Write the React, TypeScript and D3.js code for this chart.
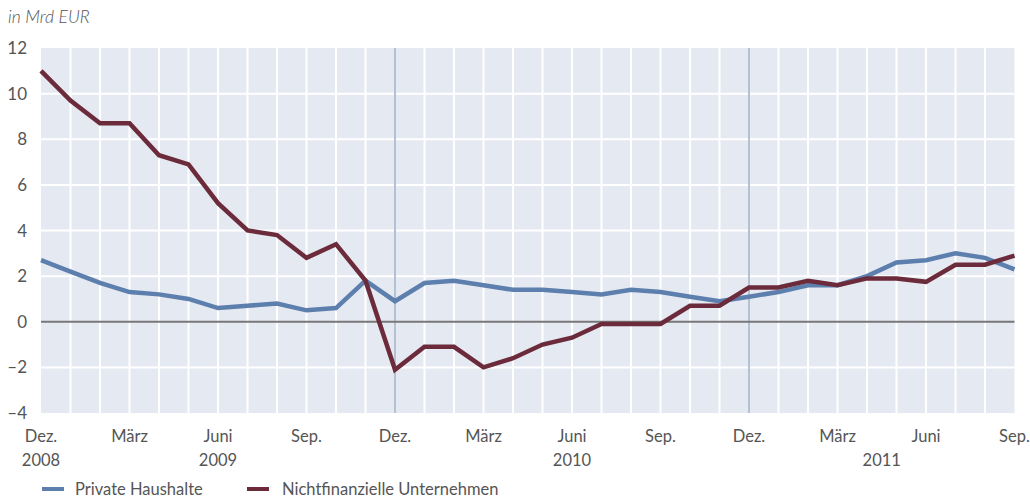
import React from "react";
import * as d3 from "d3";

const months = [
  "Dez.", "Jan.", "Feb.", "März", "Apr.", "Mai", "Juni", "Juli", "Aug.", "Sep.", "Okt.", "Nov.",
  "Dez.", "Jan.", "Feb.", "März", "Apr.", "Mai", "Juni", "Juli", "Aug.", "Sep.", "Okt.", "Nov.",
  "Dez.", "Jan.", "Feb.", "März", "Apr.", "Mai", "Juni", "Juli", "Aug.", "Sep.",
];
const privateHaushalte = [
  2.7, 2.2, 1.7, 1.3, 1.2, 1.0, 0.6, 0.7, 0.8, 0.5, 0.6, 1.8,
  0.9, 1.7, 1.8, 1.6, 1.4, 1.4, 1.3, 1.2, 1.4, 1.3, 1.1, 0.9,
  1.1, 1.3, 1.6, 1.6, 2.0, 2.6, 2.7, 3.0, 2.8, 2.3,
];
const unternehmen = [
  11.0, 9.7, 8.7, 8.7, 7.3, 6.9, 5.2, 4.0, 3.8, 2.8, 3.4, 1.8,
  -2.1, -1.1, -1.1, -2.0, -1.6, -1.0, -0.7, -0.1, -0.1, -0.1, 0.7, 0.7,
  1.5, 1.5, 1.8, 1.6, 1.9, 1.9, 1.75, 2.5, 2.5, 2.9,
];
const yTicks = [-4, -2, 0, 2, 4, 6, 8, 10, 12];
const monthLabelIdx = [0, 3, 6, 9, 12, 15, 18, 21, 24, 27, 30, 33];
const yearLabels = [
  { label: "2008", pos: 0 },
  { label: "2009", pos: 6 },
  { label: "2010", pos: 18 },
  { label: "2011", pos: 28.5 },
];
const yearBreaks = [12, 24];
const seriesNames = ["Private Haushalte", "Nichtfinanzielle Unternehmen"];
const colors = ["#5d7fae", "#6c2b3b"];

export default function App() {
  const W = 1030, H = 500;
  const left = 41, right = 1014.5, top = 48, bottom = 413;
  const x = d3.scaleLinear().domain([0, months.length - 1]).range([left, right]);
  const y = d3.scaleLinear().domain([-4, 12]).range([bottom, top]);
  const line = d3.line<number>().x((_, i) => x(i)).y((d) => y(d));
  const font = "'Lato', 'Open Sans', sans-serif";
  const textColor = "#555555";
  const fs = 16.5;

  return (
    <svg width={W} height={H} style={{ position: "absolute", left: 0, top: 0 }} fontFamily={font}>
      <rect x={left} y={top} width={right - left} height={bottom - top} fill="#e5e9f1" />
      {months.map((_, i) =>
        i > 0 && i < months.length - 1 ? (
          <line key={"vg" + i} x1={x(i)} x2={x(i)} y1={top} y2={bottom} stroke="#fff" strokeWidth={2} />
        ) : null
      )}
      {yTicks.map((t) =>
        t !== -4 && t !== 12 && t !== 0 ? (
          <line key={"hg" + t} x1={left} x2={right} y1={y(t)} y2={y(t)} stroke="#fff" strokeWidth={2} />
        ) : null
      )}
      {yearBreaks.map((b) => (
        <line key={"yb" + b} x1={x(b)} x2={x(b)} y1={top} y2={bottom} stroke="#6a84a8" strokeWidth={1} />
      ))}
      <line x1={left} x2={right} y1={y(0)} y2={y(0)} stroke="#777" strokeWidth={2} />
      <path d={line(privateHaushalte) || ""} fill="none" stroke={colors[0]} strokeWidth={4.5} strokeLinejoin="miter" />
      <path d={line(unternehmen) || ""} fill="none" stroke={colors[1]} strokeWidth={4.5} strokeLinejoin="miter" />
      <text x={8} y={23} fontSize={17.5} fontStyle="italic" fill={textColor} fontWeight={300}>in Mrd EUR</text>
      {yTicks.map((t) => (
        <text key={"yt" + t} x={27} y={y(t) + 6} fontSize={17} textAnchor="end" fill={textColor}>
          {t < 0 ? "\u2013" + Math.abs(t) : t}
        </text>
      ))}
      {monthLabelIdx.map((i) => (
        <text key={"ml" + i} x={x(i)} y={442} fontSize={fs} textAnchor="middle" fill={textColor}>
          {months[i]}
        </text>
      ))}
      {yearLabels.map((yl) => (
        <text key={"yl" + yl.label} x={x(yl.pos)} y={466} fontSize={fs} textAnchor="middle" fill={textColor}>
          {yl.label}
        </text>
      ))}
      <line x1={42} x2={64} y1={489} y2={489} stroke={colors[0]} strokeWidth={4} />
      <text x={75} y={495} fontSize={fs} fill={textColor}>{seriesNames[0]}</text>
      <line x1={247} x2={269} y1={489} y2={489} stroke={colors[1]} strokeWidth={4} />
      <text x={282} y={495} fontSize={fs} fill={textColor}>{seriesNames[1]}</text>
    </svg>
  );
}
